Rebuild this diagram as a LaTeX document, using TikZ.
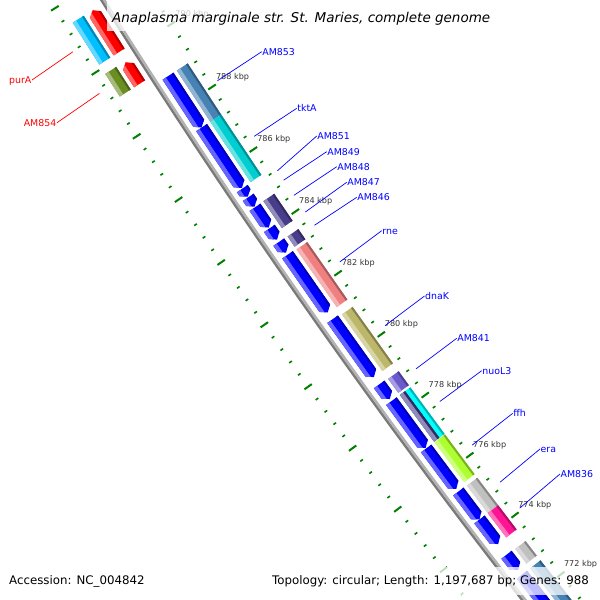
\documentclass[tikz,border=0pt]{standalone}
\usepackage{fontspec}
\setmainfont{DejaVu Sans}
\definecolor{cSteel}{HTML}{4682B4}
\definecolor{cTurq}{HTML}{00CED1}
\definecolor{cDSlate}{HTML}{483D8B}
\definecolor{cCoral}{HTML}{F08080}
\definecolor{cKhaki}{HTML}{BDB76B}
\definecolor{cSlate}{HTML}{6A5ACD}
\definecolor{cCyan}{HTML}{00FFFF}
\definecolor{cGY}{HTML}{ADFF2F}
\definecolor{cSilver}{HTML}{C0C0C0}
\definecolor{cPink}{HTML}{FF1493}
\definecolor{cSky}{HTML}{00BFFF}
\definecolor{cOlive}{HTML}{6B8E23}
\definecolor{cBlue}{HTML}{0000FF}
\definecolor{cRed}{HTML}{FF0000}
\definecolor{cTick}{HTML}{008000}
\definecolor{cKbp}{HTML}{333333}
\pgfkeys{/gcs/.cd, p/.store in=\gcsP, o/.store in=\gcsO, p=781, o=0}
\tikzdeclarecoordinatesystem{g}{%
  \pgfkeys{/gcs/.cd,#1}%
  \pgfmathsetmacro\gS{(781-(\gcsP))*37.46*(1+(\gcsO)/7141)}%
  \pgfmathsetmacro\gA{(\gcsO)-(\gS/100)*(\gS/100)*(5000/(7141+(\gcsO)))}%
  \pgfmathsetmacro\gX{359.6-0.8162*\gA+0.5778*\gS}%
  \pgfmathsetmacro\gY{303.8+0.5778*\gA+0.8162*\gS}%
  \pgfpoint{\gX pt}{-\gY pt}%
}
\newcommand\feat[5]{% phi plo oin oout color
  \fill[#5] (g cs:p=#1,o=#3) -- (g cs:p=#1,o=#4) -- (g cs:p=#2,o=#4) -- (g cs:p=#2,o=#3) -- cycle;
  \fill[#5!60!white] (g cs:p=#1,o=#4-4) -- (g cs:p=#1,o=#4) -- (g cs:p=#2,o=#4) -- (g cs:p=#2,o=#4-4) -- cycle;
  \fill[#5!70!black] (g cs:p=#1,o=#3) -- (g cs:p=#1,o=#3+2) -- (g cs:p=#2,o=#3+2) -- (g cs:p=#2,o=#3) -- cycle;
}
\newcommand\orf[5]{% ptail ptip oin oout color
  \pgfmathsetmacro\oM{(#3+#4)/2}%
  \pgfmathsetmacro\oLen{abs((#1)-(#2))}%
  \pgfmathsetmacro\oTl{min(0.14,0.5*\oLen)}%
  \pgfmathsetmacro\oPn{(#2)+((#1)-(#2))/\oLen*\oTl}%
  \pgfmathsetmacro\oHi{max(#1,#2)+0.3}%
  \pgfmathsetmacro\oLo{min(#1,#2)-0.3}%
  \begin{scope}
    \clip (g cs:p=#1,o=#3) -- (g cs:p=#1,o=#4) -- (g cs:p=\oPn,o=#4) -- (g cs:p=#2,o=\oM) -- (g cs:p=\oPn,o=#3) -- cycle;
    \fill[#5] (g cs:p=\oHi,o=#3-1) -- (g cs:p=\oHi,o=#4+1) -- (g cs:p=\oLo,o=#4+1) -- (g cs:p=\oLo,o=#3-1) -- cycle;
    \fill[#5!60!white] (g cs:p=\oHi,o=#4-4) -- (g cs:p=\oHi,o=#4+1) -- (g cs:p=\oLo,o=#4+1) -- (g cs:p=\oLo,o=#4-4) -- cycle;
    \fill[#5!70!black] (g cs:p=\oHi,o=#3-1) -- (g cs:p=\oHi,o=#3+2) -- (g cs:p=\oLo,o=#3+2) -- (g cs:p=\oLo,o=#3-1) -- cycle;
  \end{scope}
}
\tikzset{
  lab/.style={inner sep=0.5pt, font=\fontsize{9.4}{10}\selectfont, text height=6.8pt, text depth=0pt},
  rlab/.style={lab, text=cBlue, anchor=west},
  llab/.style={lab, text=cRed, anchor=east},
  rlead/.style={cBlue, line width=0.7pt},
  llead/.style={cRed, line width=0.7pt},
  kbp/.style={inner sep=0pt, anchor=west, text=cKbp, font=\fontsize{8.1}{9}\selectfont, text height=5.9pt, text depth=0pt},
  fade/.style={fill=white, fill opacity=0.75},
  foot/.style={inner sep=0pt, font=\fontsize{11.8}{13}\selectfont, text height=8.6pt, text depth=0pt}
}
\begin{document}
\begin{tikzpicture}[x=1pt,y=-1pt]
\useasboundingbox (0,0) rectangle (600,600);
\begin{scope}
\clip (0,0) rectangle (600,600);
\fill[white] (0,0) rectangle (600,600);
% tick marks
\foreach \k in {0,...,65}{%
  \pgfmathsetmacro\tp{794-0.4*\k}%
  \pgfmathtruncatemacro\ismaj{mod(\k,5)==0}%
  \ifnum\ismaj=1 \def\tkh{4.5}\def\tkw{2pt}\else\def\tkh{1.6}\def\tkw{1.6pt}\fi
  \draw[cTick,line width=\tkw] (g cs:p=\tp,o=-\tkh) -- (g cs:p=\tp,o=\tkh);
  \draw[cTick,line width=\tkw] (g cs:p=\tp,o=90-\tkh) -- (g cs:p=\tp,o=90+\tkh);
}
\foreach \v in {790,788,...,772}{%
  \node[kbp] (k\v) at (g cs:p=\v+0.18,o=-9) {\v\ kbp};
}
% backbone
\draw[line width=2.6pt, black!52] plot[variable=\t,domain=767:796,samples=30] (g cs:p=\t,o=46.2);
\draw[line width=2.6pt, black!30] plot[variable=\t,domain=767:796,samples=30] (g cs:p=\t,o=43.8);
% right strand ORFs
\orf{788.88}{787.25}{24.5}{37.5}{cBlue}
\orf{787.25}{785.32}{24.5}{37.5}{cBlue}
\orf{785.30}{785.04}{24.5}{37.5}{cBlue}
\orf{785.02}{784.72}{24.5}{37.5}{cBlue}
\orf{784.70}{784.05}{24.5}{37.5}{cBlue}
\orf{784.02}{783.66}{24.5}{37.5}{cBlue}
\orf{783.58}{783.24}{24.5}{37.5}{cBlue}
\orf{783.17}{781.30}{24.5}{37.5}{cBlue}
\orf{781.08}{779.19}{24.5}{37.5}{cBlue}
\orf{778.95}{778.47}{24.5}{37.5}{cBlue}
\orf{778.40}{776.86}{24.5}{37.5}{cBlue}
\orf{776.84}{775.50}{24.5}{37.5}{cBlue}
\orf{775.41}{774.48}{24.5}{37.5}{cBlue}
\orf{774.48}{773.66}{24.5}{37.5}{cBlue}
\orf{773.30}{772.79}{24.5}{37.5}{cBlue}
\orf{772.63}{770.50}{24.5}{37.5}{cBlue}
% right colored genes
\feat{788.88}{787.25}{7.5}{20.5}{cSteel}
\feat{787.25}{785.32}{7.5}{20.5}{cTurq}
\feat{784.71}{783.84}{7.5}{20.5}{cDSlate}
\feat{783.57}{783.24}{7.5}{20.5}{cDSlate}
\feat{783.15}{781.28}{7.5}{20.5}{cCoral}
\feat{781.04}{779.19}{7.5}{20.5}{cKhaki}
\feat{778.93}{778.47}{7.5}{20.5}{cSlate}
\feat{778.40}{776.86}{7.5}{20.5}{cCyan}
\feat{778.40}{776.86}{14}{20.5}{cDSlate}
\feat{776.84}{775.52}{7.5}{20.5}{cGY}
\feat{775.40}{774.48}{7.5}{20.5}{cSilver}
\feat{774.48}{773.67}{7.5}{20.5}{cPink}
\feat{773.28}{772.79}{7.5}{20.5}{cSilver}
\feat{772.63}{770.50}{7.5}{20.5}{cSteel}
% left strand
\orf{790.12}{791.43}{52.5}{65.5}{cRed}
\orf{789.12}{789.80}{52.5}{65.5}{cRed}
\feat{791.43}{790.12}{69.5}{82.5}{cSky}
\feat{789.83}{789.12}{69.5}{82.5}{cOlive}
\end{scope}
% labels right
\node[rlab] (lAM853) at (261.7,51.7) {AM853};
\node[rlab] (ltktA) at (296.7,108.3) {tktA};
\node[rlab] (lAM851) at (316.7,136) {AM851};
\node[rlab] (lAM849) at (326.7,151.7) {AM849};
\node[rlab] (lAM848) at (336.7,166.7) {AM848};
\node[rlab] (lAM847) at (346.7,182.3) {AM847};
\node[rlab] (lAM846) at (356.7,197.3) {AM846};
\node[rlab] (lrne) at (381.7,230.7) {rne};
\node[rlab] (ldnaK) at (424.5,296) {dnaK};
\node[rlab] (lAM841) at (456.7,338.3) {AM841};
\node[rlab] (lnuoL3) at (481.7,370.7) {nuoL3};
\node[rlab] (lffh) at (512.7,413.3) {ffh};
\node[rlab] (lera) at (540,449) {era};
\node[rlab] (lAM836) at (560,474) {AM836};
\node[llab] (lpurA) at (32,80) {purA};
\node[llab] (lAM854) at (57,122.7) {AM854};
% leader start points
\coordinate (sAM853) at (g cs:p=788.06,o=-8);
\coordinate (stktA) at (g cs:p=786.28,o=-8);
\coordinate (sAM851) at (g cs:p=785.17,o=-8);
\coordinate (sAM849) at (g cs:p=784.87,o=-8);
\coordinate (sAM848) at (g cs:p=784.38,o=-8);
\coordinate (sAM847) at (g cs:p=783.84,o=-8);
\coordinate (sAM846) at (g cs:p=783.41,o=-8);
\coordinate (srne) at (g cs:p=782.22,o=-8);
\coordinate (sdnaK) at (g cs:p=780.13,o=-8);
\coordinate (sAM841) at (g cs:p=778.71,o=-8);
\coordinate (snuoL3) at (g cs:p=777.63,o=-8);
\coordinate (sffh) at (g cs:p=776.18,o=-8);
\coordinate (sera) at (g cs:p=774.94,o=-8);
\coordinate (sAM836) at (g cs:p=774.07,o=-8);
\coordinate (spurA) at (g cs:p=790.78,o=98);
\coordinate (sAM854) at (g cs:p=789.48,o=98);
\foreach \n in {AM853,tktA,AM851,AM849,AM848,AM847,AM846,rne,dnaK,AM841,nuoL3,ffh,era,AM836}{%
  \draw[rlead] (s\n) -- (l\n.west);
}
\foreach \n in {purA,AM854}{%
  \draw[llead] (s\n) -- (l\n.east);
}
% title and footer
\fill[fade] (107,0) rectangle (493,31);
\node[inner sep=0pt, anchor=west, font=\fontsize{13.5}{15}\itshape, text height=9.8pt, text depth=0pt] (title) at (112,17.7) {Anaplasma marginale str. St. Maries, complete genome};
\fill[fade] (5,567) rectangle (147,595);
\node[foot, anchor=west] (acc) at (9,580) {Accession: NC\_004842};
\fill[fade] (268,567) rectangle (594,595);
\node[foot, anchor=east] (topo) at (589,580) {Topology: circular; Length: 1,197,687 bp; Genes: 988};
\end{tikzpicture}
\end{document}
